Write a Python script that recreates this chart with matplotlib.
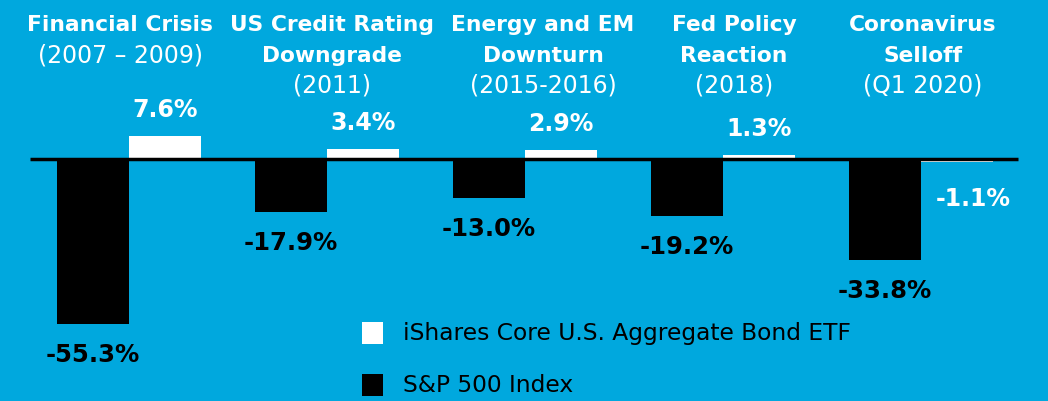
import matplotlib.pyplot as plt
from matplotlib.patches import Rectangle
import numpy as np

plt.rcParams['font.family'] = ['DejaVu Sans']

# data
periods = [
    ['Financial Crisis', '(2007 – 2009)'],
    ['US Credit Rating', 'Downgrade', '(2011)'],
    ['Energy and EM', 'Downturn', '(2015-2016)'],
    ['Fed Policy', 'Reaction', '(2018)'],
    ['Coronavirus', 'Selloff', '(Q1 2020)'],
]
sp500 = [-55.3, -17.9, -13.0, -19.2, -33.8]
agg_bond = [7.6, 3.4, 2.9, 1.3, -1.1]
series_names = ['iShares Core U.S. Aggregate Bond ETF', 'S&P 500 Index']

# title shift from group centre, in px (layout only)
title_shift = [-9, 5, 18, 11, 2]

bg = '#00A8DE'
W, H = 1048, 402
fig = plt.figure(figsize=(W / 100, H / 100), dpi=100, facecolor=bg)
ax = fig.add_axes([0, 0, 1, 1], facecolor=bg)

# pixel -> data helpers (group spacing 198 px, 2.98 px per %)
px_per_x = 198.0
px_per_y = 2.98
x0_px = 129
y0_px = 160
ax.set_xlim(-x0_px / px_per_x, (W - x0_px) / px_per_x)
ax.set_ylim(-(H - y0_px) / px_per_y, y0_px / px_per_y)
ax.axis('off')

def ypix(p):
    return (y0_px - p) / px_per_y

x = np.arange(len(periods))
w = 72 / px_per_x
ax.bar(x - w / 2, sp500, w, color='black', zorder=2)
ax.bar(x + w / 2, agg_bond, w, color='white', zorder=2)
ax.hlines(0, -0.5, 4.49, color='black', lw=2.5, zorder=3)

# value labels
for i in range(len(x)):
    v = sp500[i]
    ax.annotate(f'{v:.1f}%', (x[i] - w / 2, v), xytext=(0, -30 * 0.72),
                textcoords='offset points', ha='center', va='center',
                fontsize=17.5, fontweight='bold', color='black')
    v = agg_bond[i]
    if v >= 0:
        off = (0, 27 * 0.72)
    else:
        off = (16 * 0.72, -36 * 0.72)
    ax.annotate(f'{v:.1f}%', (x[i] + w / 2, v), xytext=off,
                textcoords='offset points', ha='center', va='center',
                fontsize=17, fontweight='bold', color='white')

# period titles
row_y = [25, 56, 86]
for i, lines in enumerate(periods):
    for j, line in enumerate(lines):
        last = j == len(lines) - 1
        ax.text(x[i] + title_shift[i] / px_per_x, ypix(row_y[j]), line,
                ha='center', va='center',
                fontsize=17 if last else 15.7, color='white',
                fontweight='normal' if last else 'bold')

# legend
leg_y = [334, 386]
leg_c = ['white', 'black']
for k in range(2):
    fig.patches.append(Rectangle((362 / W, 1 - (leg_y[k] + 11) / H), 21 / W, 22 / H,
                                 transform=fig.transFigure, facecolor=leg_c[k],
                                 edgecolor='none'))
    fig.text(403 / W, 1 - leg_y[k] / H, series_names[k], ha='left', va='center',
             fontsize=16.8, color='black')

fig.savefig('out.png', dpi=100, facecolor=bg)
